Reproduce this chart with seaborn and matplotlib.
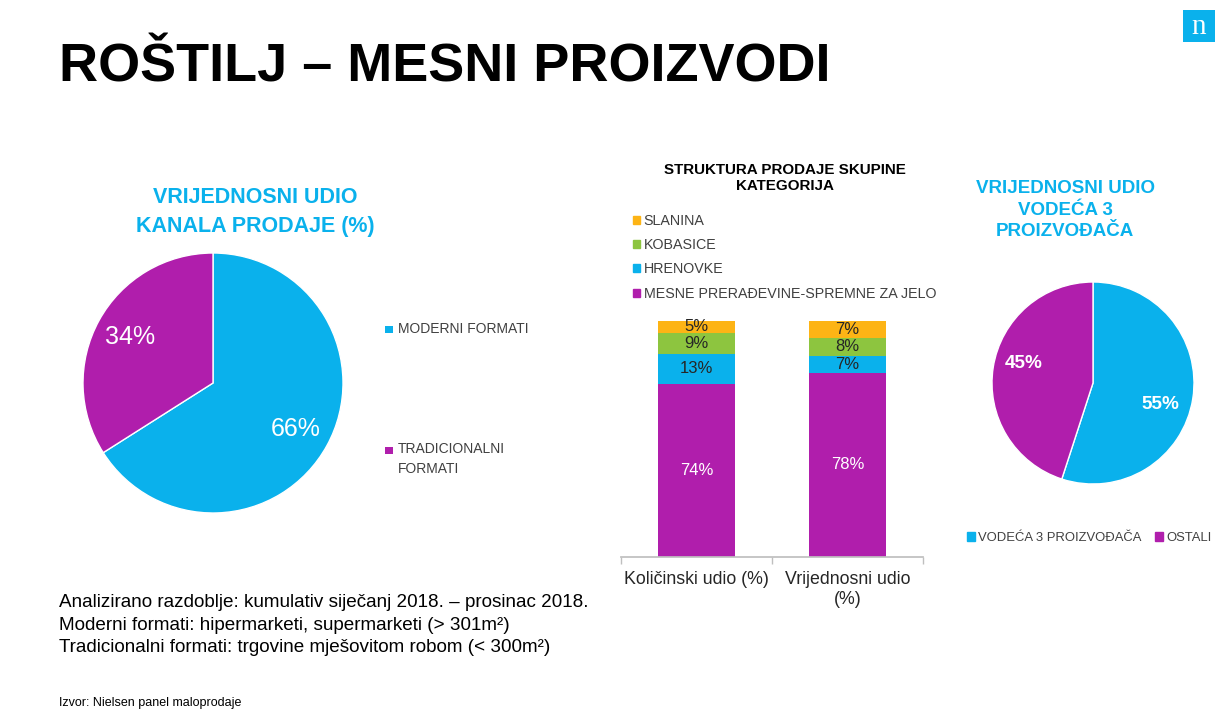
import numpy as np
import pandas as pd
import matplotlib
matplotlib.use("Agg")
import matplotlib.pyplot as plt
from matplotlib.patches import Patch, Rectangle
import seaborn as sns

# ── Data ─────────────────────────────────────
channel_labels = ["MODERNI FORMATI", "TRADICIONALNI\nFORMATI"]
channel_share = [66, 34]

bar_categories = ["Količinski udio (%)", "Vrijednosni udio\n(%)"]
segment_names = ["MESNE PRERAĐEVINE-SPREMNE ZA JELO", "HRENOVKE", "KOBASICE", "SLANINA"]
segment_values = {
    "MESNE PRERAĐEVINE-SPREMNE ZA JELO": [74, 78],
    "HRENOVKE": [13, 7],
    "KOBASICE": [9, 8],
    "SLANINA": [5, 7],
}

leader_labels = ["VODEĆA 3 PROIZVOĐAČA", "OSTALI"]
leader_share = [55, 45]

# ── Style ────────────────────────────────────
CYAN = "#0AB1EC"
PURPLE = "#B01EAC"
GREEN = "#8DC53F"
YELLOW = "#FDB415"
seg_colors = {
    "MESNE PRERAĐEVINE-SPREMNE ZA JELO": PURPLE,
    "HRENOVKE": CYAN,
    "KOBASICE": GREEN,
    "SLANINA": YELLOW,
}

sns.set_theme(style="white")
plt.rcParams["font.family"] = ["Liberation Sans", "DejaVu Sans"]

W, H = 1227, 720
fig = plt.figure(figsize=(W / 100, H / 100), dpi=100)
fig.patch.set_facecolor("white")


def box(x0, y0, x1, y1):
    return [x0 / W, 1 - y1 / H, (x1 - x0) / W, (y1 - y0) / H]


def fx(x):
    return x / W


def fy(y):
    return 1 - y / H


def square(x, y, color, size=7):
    # small legend marker, centred at pixel (x, y)
    fig.patches.append(Rectangle((fx(x - size / 2), fy(y + size / 2)), size / W, size / H,
                                 transform=fig.transFigure, facecolor=color, edgecolor="none"))


# ── Title + logo ─────────────────────────────
fig.text(fx(59), fy(68), "ROŠTILJ – MESNI PROIZVODI", fontsize=38.9, fontweight="bold",
         color="black", va="center", ha="left")
fig.patches.append(Rectangle((fx(1183), fy(42)), 32 / W, 32 / H, transform=fig.transFigure,
                             facecolor=CYAN, edgecolor="none"))
fig.text(fx(1199), fy(27), "n", fontsize=21, color="white", ha="center", va="center",
         family=["Liberation Serif", "DejaVu Serif"])

# ── Left pie: sales channels ─────────────────
fig.text(fx(255), fy(212), "VRIJEDNOSNI UDIO\nKANALA PRODAJE (%)", fontsize=15.5,
         fontweight="bold", color=CYAN, ha="center", va="center", linespacing=1.5)
ax1 = fig.add_axes(box(83, 253, 343, 513))
ax1.pie(channel_share, colors=[CYAN, PURPLE], startangle=90, counterclock=False,
        autopct="%.0f%%", pctdistance=0.73,
        textprops=dict(color="white", fontsize=18))
ax1.set_xlim(-1, 1)
ax1.set_ylim(-1, 1)
ax1.set_aspect("equal")
ax1.axis("off")

square(389, 329, CYAN)
fig.text(fx(398), fy(329), channel_labels[0], fontsize=10, color="#404040",
         ha="left", va="center")
square(389, 450, PURPLE)
fig.text(fx(398), fy(442), channel_labels[1], fontsize=10, color="#404040",
         ha="left", va="top", linespacing=1.55)

# ── Middle: stacked bars ─────────────────────
fig.text(fx(785), fy(178), "STRUKTURA PRODAJE SKUPINE\nKATEGORIJA", fontsize=10.9,
         fontweight="bold", color="black", ha="center", va="center", linespacing=1.25)

df = pd.DataFrame(segment_values, index=bar_categories)
df = df.div(df.sum(axis=1), axis=0) * 100
cum = df[segment_names].cumsum(axis=1)

ax2 = fig.add_axes(box(621, 321, 923, 557))
for name in reversed(segment_names):
    sns.barplot(x=bar_categories, y=cum[name].values, color=seg_colors[name],
                width=0.51, saturation=1, ax=ax2, edgecolor="none")

raw = pd.DataFrame(segment_values, index=bar_categories)
for i, cat in enumerate(bar_categories):
    bottom = 0
    for name in segment_names:
        h = df.loc[cat, name]
        txt_color = "white" if name == segment_names[0] else "#262626"
        ax2.text(i, bottom + h / 2, f"{raw.loc[cat, name]}%", ha="center", va="center",
                 fontsize=12, color=txt_color)
        bottom += h

ax2.set_xlim(-0.5, 1.5)
ax2.set_ylim(0, 100)
for s in ["top", "right", "left"]:
    ax2.spines[s].set_visible(False)
ax2.spines["bottom"].set_color("#BFBFBF")
ax2.set_yticks([])
ax2.set_xticks([0, 1])
ax2.set_xticklabels(bar_categories, fontsize=12.8, color="#262626", linespacing=1.22)
ax2.set_xticks([-0.5, 0.5, 1.5], minor=True)
ax2.tick_params(axis="x", which="major", length=0, pad=10)
ax2.tick_params(axis="x", which="minor", length=5, color="#BFBFBF", width=1, bottom=True)
ax2.set_xlabel("")
ax2.set_ylabel("")

legend_order = list(reversed(segment_names))
fig.legend(handles=[Patch(color=seg_colors[n]) for n in legend_order], labels=legend_order,
           loc="upper left", bbox_to_anchor=(fx(620), fy(201)), frameon=False,
           fontsize=10.3, handlelength=0.5, handleheight=0.5, handletextpad=0.25,
           labelspacing=0.72, labelcolor="#404040")

# ── Right pie: leading producers ─────────────
fig.text(fx(1065), fy(210), "VRIJEDNOSNI UDIO\nVODEĆA 3\nPROIZVOĐAČA", fontsize=13.5,
         fontweight="bold", color=CYAN, ha="center", va="center", linespacing=1.35)
ax3 = fig.add_axes(box(992, 282, 1194, 484))
_, _, auto3 = ax3.pie(leader_share, colors=[CYAN, PURPLE], startangle=90, counterclock=False,
                      autopct="%.0f%%", pctdistance=0.7,
                      textprops=dict(color="white", fontsize=13.6, fontweight="bold"))
auto3[0].set_position((0.67, -0.21))
auto3[1].set_position((-0.69, 0.19))
ax3.set_xlim(-1, 1)
ax3.set_ylim(-1, 1)
ax3.set_aspect("equal")
ax3.axis("off")

fig.legend(handles=[Patch(color=c) for c in [CYAN, PURPLE]], labels=leader_labels,
           loc="center left", bbox_to_anchor=(fx(955), fy(538)), frameon=False, ncol=2,
           fontsize=9.4, handlelength=0.6, handleheight=0.6, handletextpad=0.3,
           columnspacing=1.0, labelcolor="#404040")

# ── Footnotes ────────────────────────────────
notes = ("Analizirano razdoblje: kumulativ siječanj 2018. – prosinac 2018.\n"
         "Moderni formati: hipermarketi, supermarketi (> 301m²)\n"
         "Tradicionalni formati: trgovine mješovitom robom (< 300m²)")
fig.text(fx(59), fy(625), notes, fontsize=13.6, color="black", ha="left", va="center",
         linespacing=1.45)
fig.text(fx(59), fy(703), "Izvor: Nielsen panel maloprodaje", fontsize=9, color="black",
         ha="left", va="center")

fig.savefig("out.png", dpi=100, facecolor="white")
